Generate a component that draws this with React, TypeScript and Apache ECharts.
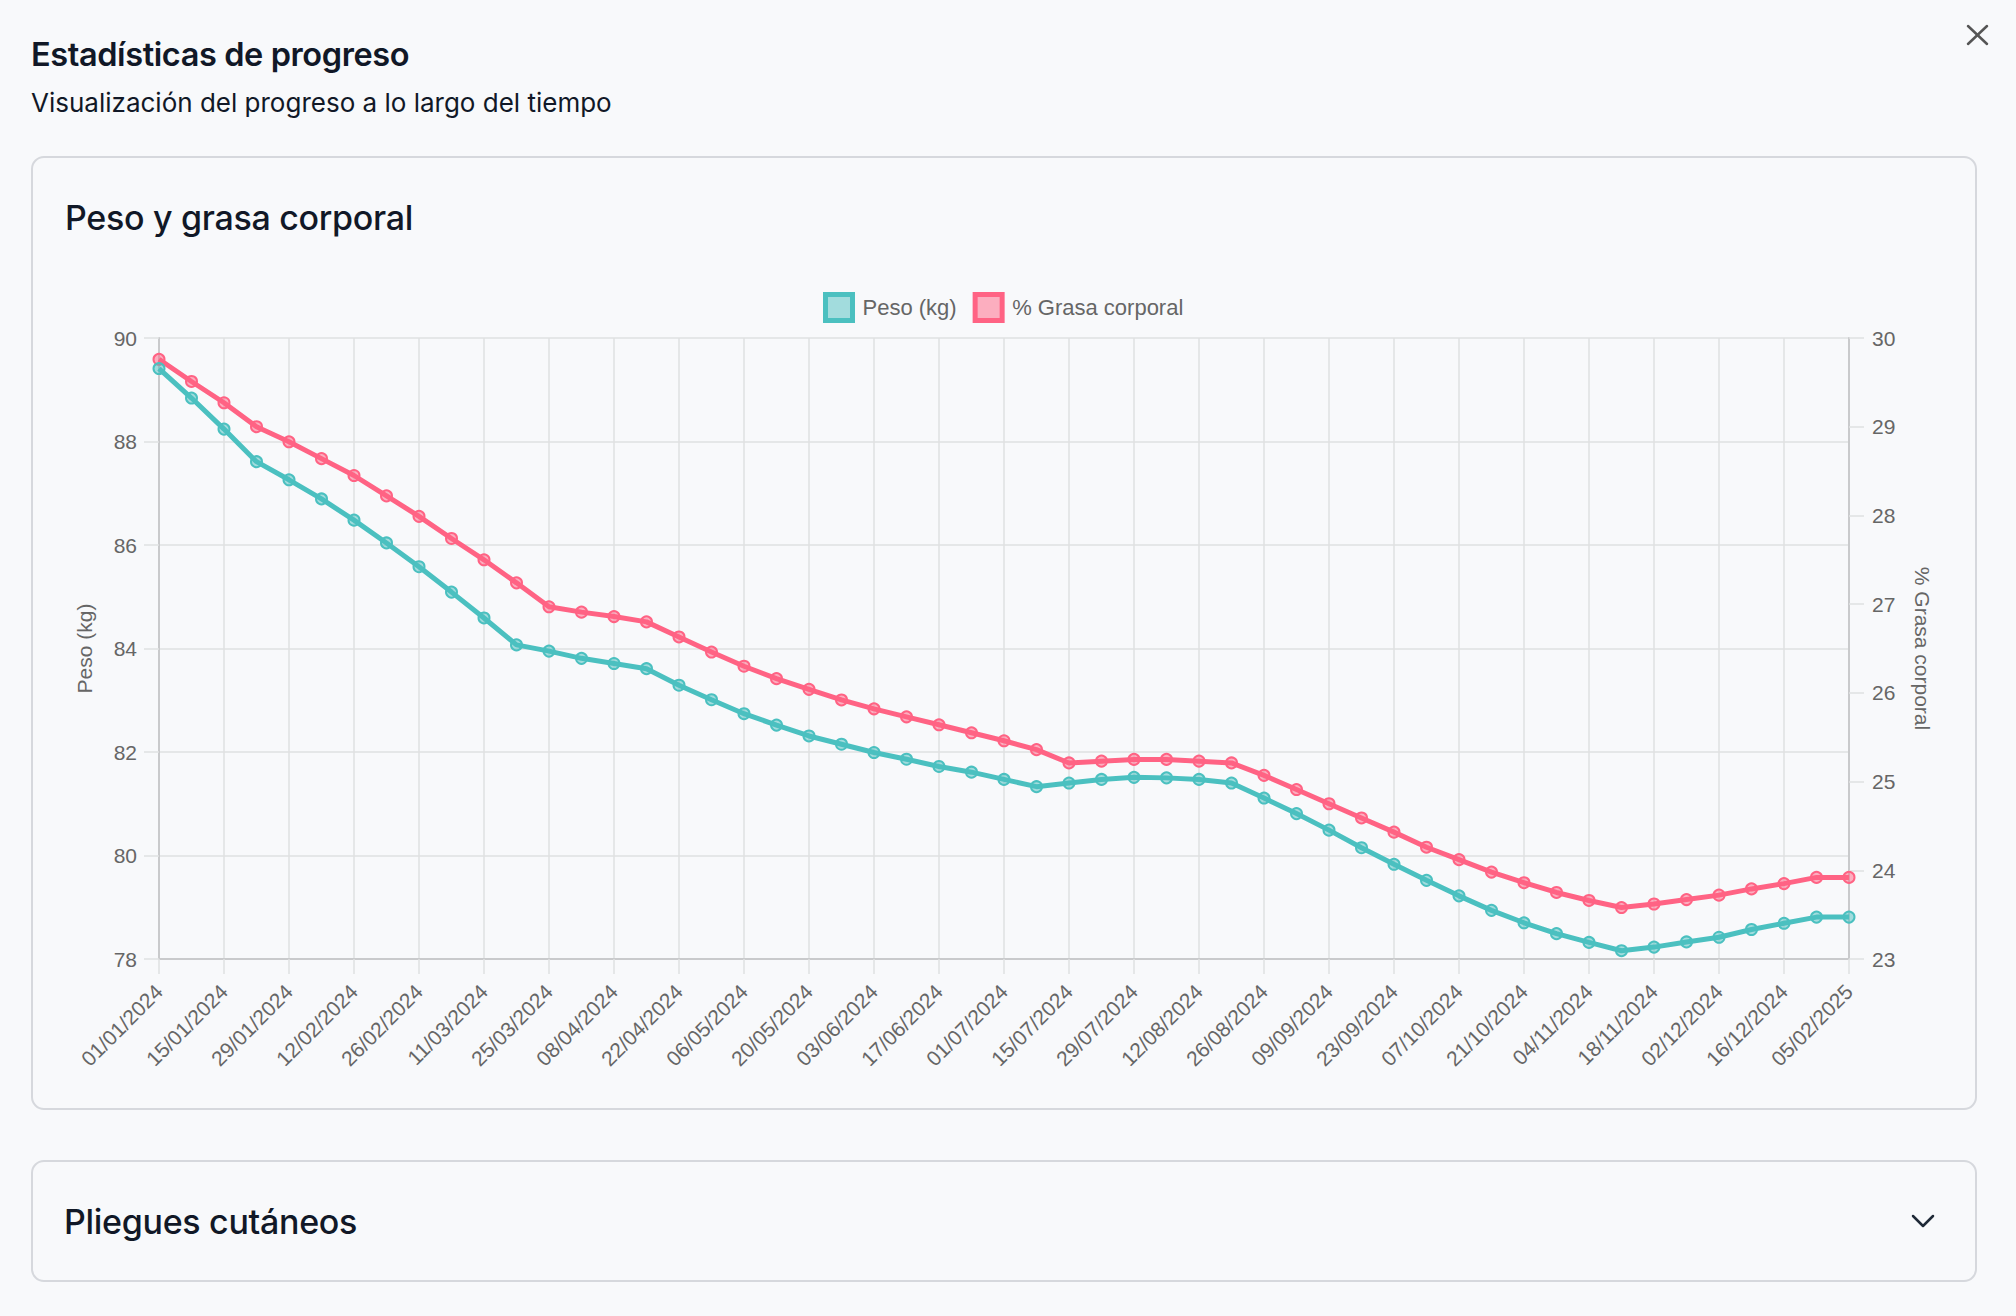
import React, { useEffect, useRef } from "react";
import * as echarts from "echarts";

const dates = [
  "01/01/2024", "08/01/2024", "15/01/2024", "22/01/2024", "29/01/2024",
  "05/02/2024", "12/02/2024", "19/02/2024", "26/02/2024",
  "04/03/2024", "11/03/2024", "18/03/2024", "25/03/2024",
  "01/04/2024", "08/04/2024", "15/04/2024", "22/04/2024", "29/04/2024",
  "06/05/2024", "13/05/2024", "20/05/2024", "27/05/2024",
  "03/06/2024", "10/06/2024", "17/06/2024", "24/06/2024",
  "01/07/2024", "08/07/2024", "15/07/2024", "22/07/2024", "29/07/2024",
  "05/08/2024", "12/08/2024", "19/08/2024", "26/08/2024",
  "02/09/2024", "09/09/2024", "16/09/2024", "23/09/2024", "30/09/2024",
  "07/10/2024", "14/10/2024", "21/10/2024", "28/10/2024",
  "04/11/2024", "11/11/2024", "18/11/2024", "25/11/2024",
  "02/12/2024", "09/12/2024", "16/12/2024", "23/12/2024",
  "05/02/2025",
];

const peso = [
  89.41, 88.84, 88.24, 87.61, 87.26, 86.89, 86.48, 86.04, 85.58, 85.09, 84.59, 84.07, 83.95, 83.81,
  83.71, 83.61, 83.29, 83.01, 82.74, 82.52, 82.31, 82.15, 81.99, 81.86, 81.72, 81.61, 81.47,
  81.33, 81.4, 81.47, 81.51, 81.5, 81.47, 81.4, 81.11, 80.81, 80.49, 80.15, 79.83, 79.52,
  79.22, 78.94, 78.7, 78.49, 78.32, 78.16, 78.23, 78.33, 78.42, 78.57, 78.69, 78.81, 78.81,
];

const grasa = [
  29.76, 29.51, 29.27, 29.0, 28.83, 28.64, 28.45, 28.22, 27.99, 27.74, 27.5, 27.24, 26.97, 26.91,
  26.86, 26.8, 26.63, 26.46, 26.3, 26.16, 26.04, 25.92, 25.82, 25.73, 25.64, 25.55, 25.46,
  25.36, 25.21, 25.23, 25.25, 25.25, 25.23, 25.21, 25.07, 24.91, 24.75, 24.59, 24.43, 24.26,
  24.12, 23.98, 23.86, 23.75, 23.66, 23.58, 23.62, 23.67, 23.72, 23.79, 23.85, 23.92, 23.92,
];

const pesoName = "Peso (kg)";
const grasaName = "% Grasa corporal";

const TEAL = "#4bc0c0";
const TEAL_FILL = "rgba(75,192,192,0.5)";
const PINK = "#ff6384";
const PINK_FILL = "rgba(255,99,132,0.5)";
const GRID = "#dfe0e2";
const AXIS = "#c9cacc";
const LABEL = "#666666";
const FONT = "'Liberation Sans', Arial, Helvetica, sans-serif";
const UI_FONT = "Inter, 'Noto Sans', sans-serif";

function Chart() {
  const ref = useRef<HTMLDivElement>(null);
  useEffect(() => {
    if (!ref.current) return;
    const chart = echarts.init(ref.current, undefined, { renderer: "svg" });
    chart.setOption({
      animation: false,
      backgroundColor: "transparent",
      textStyle: { fontFamily: FONT },
      legend: {
        top: 287,
        left: 818,
        itemWidth: 27,
        itemHeight: 26,
        itemGap: 16,
        textStyle: { color: LABEL, fontSize: 22, fontFamily: FONT, padding: [0, 0, 0, 5] },
        data: [
          { name: pesoName, icon: "rect", itemStyle: { color: TEAL_FILL, borderColor: TEAL, borderWidth: 5 } },
          { name: grasaName, icon: "rect", itemStyle: { color: PINK_FILL, borderColor: PINK, borderWidth: 5 } },
        ],
      },
      grid: { left: 159, top: 338, width: 1690, height: 621, containLabel: false },
      xAxis: {
        type: "category",
        data: dates,
        boundaryGap: false,
        axisLine: { show: true, lineStyle: { color: AXIS, width: 2 } },
        axisTick: { show: true, interval: 1, length: 15, lineStyle: { color: GRID, width: 1.5 } },
        axisLabel: { interval: 1, rotate: 45, margin: 29, fontSize: 21, color: LABEL, fontFamily: FONT },
        splitLine: { show: true, interval: 1, lineStyle: { color: GRID, width: 1.5 } },
      },
      yAxis: [
        {
          type: "value",
          position: "left",
          min: 78,
          max: 90,
          interval: 2,
          name: pesoName,
          nameLocation: "middle",
          nameRotate: 90,
          nameGap: 64,
          nameTextStyle: { color: LABEL, fontSize: 21, fontFamily: FONT },
          axisLine: { show: true, lineStyle: { color: AXIS, width: 2 } },
          axisTick: { show: true, length: 15, lineStyle: { color: GRID, width: 1.5 } },
          axisLabel: { margin: 22, fontSize: 21, color: LABEL, fontFamily: FONT },
          splitLine: { show: true, lineStyle: { color: GRID, width: 1.5 } },
        },
        {
          type: "value",
          position: "right",
          min: 23,
          max: 30,
          interval: 1,
          name: grasaName,
          nameLocation: "middle",
          nameRotate: -90,
          nameGap: 63,
          nameTextStyle: { color: LABEL, fontSize: 21, fontFamily: FONT },
          axisLine: { show: true, lineStyle: { color: AXIS, width: 2 } },
          axisTick: { show: true, length: 15, lineStyle: { color: GRID, width: 1.5 } },
          axisLabel: { margin: 23, fontSize: 21, color: LABEL, fontFamily: FONT },
          splitLine: { show: false },
        },
      ],
      series: [
        {
          type: "line",
          name: pesoName,
          data: peso,
          yAxisIndex: 0,
          z: 4,
          symbol: "circle",
          symbolSize: 11,
          showAllSymbol: true,
          lineStyle: { color: TEAL, width: 5 },
          itemStyle: { color: TEAL_FILL, borderColor: TEAL, borderWidth: 2 },
        },
        {
          type: "line",
          name: grasaName,
          data: grasa,
          yAxisIndex: 1,
          z: 3,
          symbol: "circle",
          symbolSize: 11,
          showAllSymbol: true,
          lineStyle: { color: PINK, width: 5 },
          itemStyle: { color: PINK_FILL, borderColor: PINK, borderWidth: 2 },
        },
      ],
    });
    return () => chart.dispose();
  }, []);
  return (
    <div
      ref={ref}
      style={{ position: "absolute", left: 0, top: 0, width: 2016, height: 1316 }}
    />
  );
}

export default function App() {
  const textBase: React.CSSProperties = {
    position: "absolute",
    fontFamily: UI_FONT,
    whiteSpace: "nowrap",
    margin: 0,
  };
  const card: React.CSSProperties = {
    position: "absolute",
    left: 31,
    width: 1946,
    border: "2px solid #d6d8dd",
    borderRadius: 13,
    boxSizing: "border-box",
    background: "#f8f9fb",
  };
  return (
    <div
      style={{
        position: "fixed",
        left: 0,
        top: 0,
        width: 2016,
        height: 1316,
        background: "#f8f9fb",
        overflow: "hidden",
      }}
    >
      <div style={{ ...textBase, left: 31, top: 39, fontSize: 32.5, lineHeight: "32.5px", fontWeight: 600, color: "#111827", letterSpacing: -0.4 }}>
        Estadísticas de progreso
      </div>
      <div style={{ ...textBase, left: 31, top: 89.5, fontSize: 26, lineHeight: "26px", fontWeight: 400, color: "#111827" }}>
        Visualización del progreso a lo largo del tiempo
      </div>
      <svg style={{ position: "absolute", left: 1960, top: 18, width: 36, height: 36 }} viewBox="1960 18 36 36">
        <line x1={1968} y1={26} x2={1987} y2={44} stroke="#555" strokeWidth={2.5} strokeLinecap="round" />
        <line x1={1987} y1={26} x2={1968} y2={44} stroke="#555" strokeWidth={2.5} strokeLinecap="round" />
      </svg>

      <div style={{ ...card, top: 156, height: 954 }} />
      <div style={{ ...textBase, left: 65, top: 201, fontSize: 34, lineHeight: "34px", fontWeight: 500, color: "#111827", letterSpacing: -0.3 }}>
        Peso y grasa corporal
      </div>

      <div style={{ ...card, top: 1160, height: 122 }} />
      <div style={{ ...textBase, left: 64, top: 1205, fontSize: 34, lineHeight: "34px", fontWeight: 500, color: "#111827", letterSpacing: -0.3 }}>
        Pliegues cutáneos
      </div>
      <svg style={{ position: "absolute", left: 1905, top: 1205, width: 36, height: 32 }} viewBox="1905 1205 36 32">
        <polyline points="1913,1216 1923,1226 1933,1216" fill="none" stroke="#1f2937" strokeWidth={2.5} strokeLinecap="round" strokeLinejoin="round" />
      </svg>

      <Chart />
    </div>
  );
}
